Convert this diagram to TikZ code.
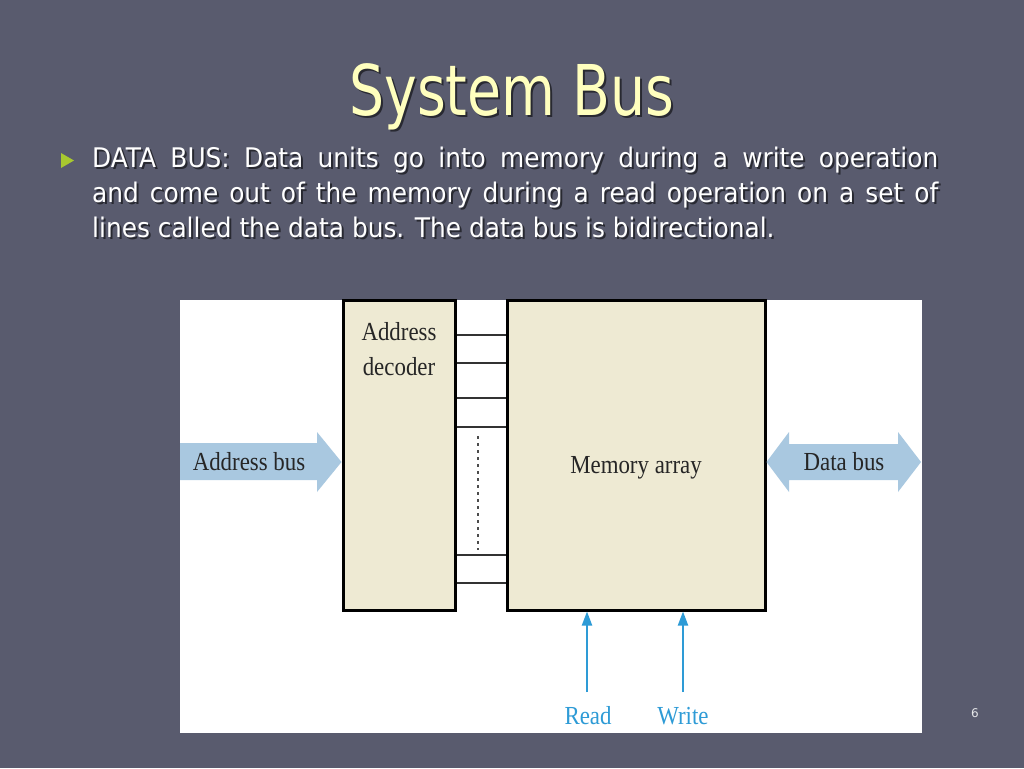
\documentclass[tikz,border=0pt]{standalone}
\usepackage{fontspec}
\usepackage{tikz}
\usetikzlibrary{arrows.meta}
\setmainfont{DejaVu Sans}
\newfontfamily\titlefont{DejaVu Sans}[FakeStretch=0.79]
\newfontfamily\slidefont{DejaVu Sans}[FakeStretch=0.92]
\newfontfamily\figfont{Liberation Serif}[FakeStretch=0.88]

\definecolor{slidebg}{RGB}{89,91,110}
\definecolor{titleyellow}{RGB}{255,255,190}
\definecolor{bulletgreen}{RGB}{168,200,48}
\definecolor{boxbeige}{RGB}{238,234,211}
\definecolor{busblue}{RGB}{169,200,224}
\definecolor{ctrlblue}{RGB}{46,155,214}

\tikzset{
	block/.style={draw=black, line width=3pt, fill=boxbeige, inner sep=0pt},
	figlabel/.style={font=\figfont\fontsize{26}{35}\selectfont, text=black!85},
	ctrl/.style={draw=ctrlblue, line width=2pt, -{Triangle[length=14pt,width=10pt]}},
	ctrllabel/.style={font=\figfont\fontsize{26}{30}\selectfont, text=ctrlblue},
	shadow/.style={text=black, opacity=0.55}
}

\newcommand{\bodytext}{DATA BUS: Data units go into memory during a write operation\linebreak
	and come out of the memory during a read operation on a set of\linebreak
	lines called the data bus. The data bus is bidirectional.}

\begin{document}
\begin{tikzpicture}[x=1pt, y=-1pt]
	\useasboundingbox (0,0) rectangle (1024,768);
	\fill[slidebg] (0,0) rectangle (1024,768);

	% title and bullet text
	\node[shadow, font=\titlefont\fontsize{70}{70}\selectfont] at (514,99) {System Bus};
	\node[text=titleyellow, font=\titlefont\fontsize{70}{70}\selectfont] (title) at (512,97) {System Bus};
	\fill[bulletgreen] (61,153) -- (74,160.5) -- (61,168) -- cycle;
	\node[shadow, anchor=north west, inner sep=0pt, text width=846pt, align=justify,
		font=\slidefont\fontsize{27}{35}\selectfont] at (94,149) {\bodytext};
	\node[text=white, anchor=north west, inner sep=0pt, text width=846pt, align=justify,
		font=\slidefont\fontsize{27}{35}\selectfont] (body) at (92,147) {\bodytext};

	% figure
	\fill[white] (180,300) rectangle (922,733);
	\node[block, minimum width=112pt, minimum height=310pt] (dec) at (399,455) {};
	\node[block, minimum width=258pt, minimum height=310pt] (mem) at (636,455) {};
	\node[figlabel, align=center, anchor=north] at (dec.north) [yshift=-20pt] {Address\\decoder};
	\node[figlabel] at ([yshift=-13pt]mem.center) {Memory array};
	\foreach \y in {335,363,398,427,555,583}
		\draw[line width=1.5pt, black!80] (dec.east |- 0,\y) -- (mem.west |- 0,\y);
	\draw[line width=1.5pt, black!70, dash pattern=on 3pt off 4pt] (478,436) -- (478,550);

	% address bus and data bus
	\fill[busblue] (180,443) -- (317,443) -- (317,432) -- (dec.west |- 0,462) -- (317,492) -- (317,480) -- (180,480) -- cycle;
	\node[figlabel] (abus) at (249,462) {Address bus};
	\fill[busblue] (mem.east |- 0,462) -- (789,432) -- (789,444) -- (898,444) -- (898,432) -- (921,462)
		-- (898,492) -- (898,480) -- (789,480) -- (789,492) -- cycle;
	\node[figlabel] (dbus) at (844,462) {Data bus};

	% read and write
	\node[ctrllabel] (rd) at (588,716) {Read};
	\node[ctrllabel] (wr) at (683,716) {Write};
	\coordinate (rdstart) at (587,692);
	\coordinate (wrstart) at (683,692);
	\draw[ctrl] (rdstart) -- (rdstart |- mem.south);
	\draw[ctrl] (wrstart) -- (wrstart |- mem.south);

	\node[text=white!85!slidebg, font=\fontsize{12}{12}\selectfont] (pagenum) at (975,713) {6};
\end{tikzpicture}
\end{document}
